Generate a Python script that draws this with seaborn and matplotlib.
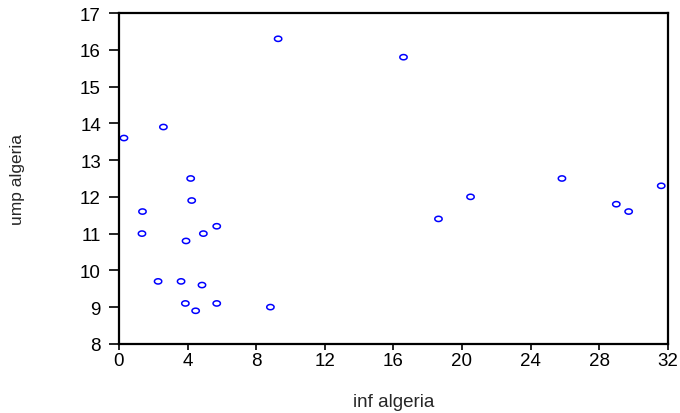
import numpy as np
import pandas as pd
import matplotlib
matplotlib.use("Agg")
import matplotlib.pyplot as plt
import seaborn as sns

# values
inf_algeria = [0.29, 2.59, 9.28, 16.59, 1.37, 1.34, 4.18, 4.24, 3.91, 4.92, 5.70, 2.28,
               3.62, 4.84, 3.87, 5.70, 4.47, 8.83, 18.63, 20.50, 25.83, 29.00, 29.72, 31.62]
ump_algeria = [13.6, 13.9, 16.3, 15.8, 11.6, 11.0, 12.5, 11.9, 10.8, 11.0, 11.2, 9.7,
               9.7, 9.6, 9.1, 9.1, 8.9, 9.0, 11.4, 12.0, 12.5, 11.8, 11.6, 12.3]
x_ticks = [0, 4, 8, 12, 16, 20, 24, 28, 32]
y_ticks = [8, 9, 10, 11, 12, 13, 14, 15, 16, 17]

df = pd.DataFrame({"inf algeria": inf_algeria, "ump algeria": ump_algeria})

sns.set_theme(style="white")
plt.rcParams["font.family"] = ["Liberation Sans", "DejaVu Sans"]

fig = plt.figure(figsize=(6.8, 4.14), dpi=100)
ax = fig.add_axes([0.175, 0.167, 0.807, 0.799])

# flat open ellipse marker like the original
t = np.linspace(0, 2 * np.pi, 40)
ell = np.column_stack([1.4 * np.cos(t), np.sin(t)])

sns.scatterplot(data=df, x="inf algeria", y="ump algeria", ax=ax,
                marker=ell, s=28, facecolors="none", edgecolor="#0000ff",
                linewidth=1.1, legend=False)

ax.set_xlim(0, 32)
ax.set_ylim(8, 17)
ax.set_xticks(x_ticks)
ax.set_yticks(y_ticks)
ax.tick_params(axis="both", labelsize=13.5, colors="black", direction="out",
               width=1.2, left=True, bottom=True)
ax.tick_params(axis="y", length=7, pad=6)
ax.tick_params(axis="x", length=4, pad=2)
for sp in ax.spines.values():
    sp.set_color("black")
    sp.set_linewidth(1.6)

ax.set_xlabel("inf algeria", fontsize=13.5, labelpad=17)
ax.set_ylabel("ump algeria", fontsize=12.5, labelpad=40)

fig.savefig("out.png", dpi=100)
